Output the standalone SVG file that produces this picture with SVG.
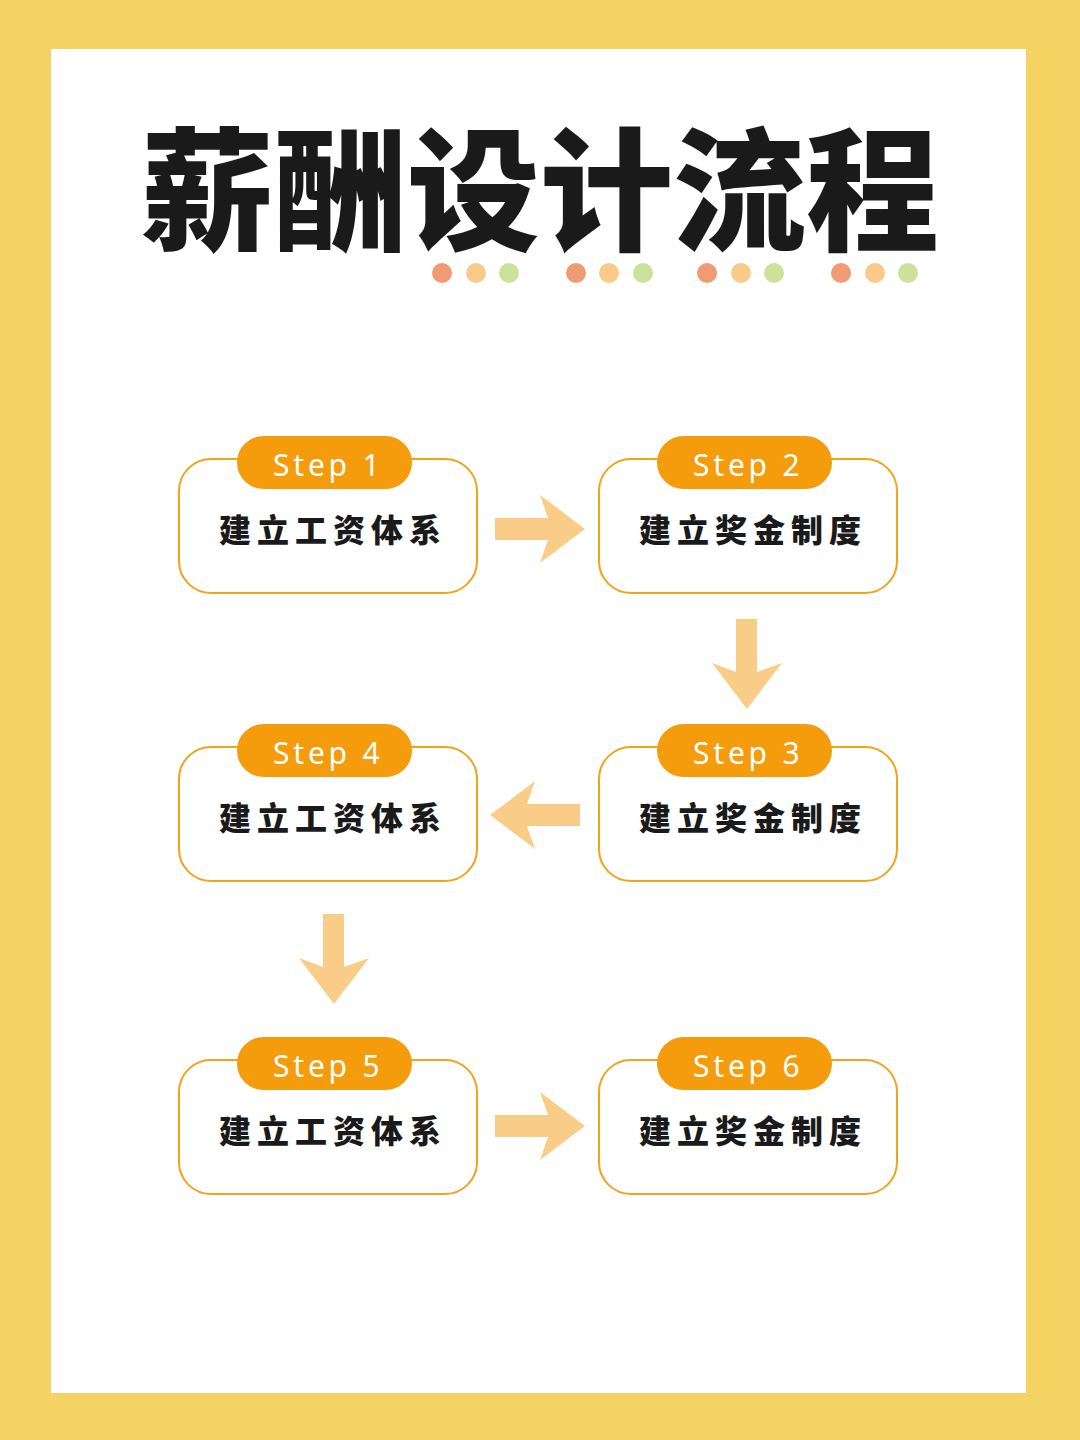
<svg xmlns="http://www.w3.org/2000/svg" width="1080" height="1440" viewBox="0 0 1080 1440">
<defs>
<style>
.box{fill:#ffffff;stroke:#F2A31B;stroke-width:2}
.pill{fill:#F49C0C}
.step{font-family:"Noto Sans","Open Sans",sans-serif;font-size:30px;fill:#ffffff;letter-spacing:3.8px}
.lbl{font-family:"Noto Sans CJK SC",sans-serif;font-size:32px;font-weight:900;fill:#1a1a1a;letter-spacing:6px}
.arr{fill:#F9CD87}
.d1{fill:#F19B74}.d2{fill:#F9CA88}.d3{fill:#CDE19A}
</style>
<path id="ra" d="M495,518 L548,518 L540,495 L585,529 L540,563 L548,540 L495,540 Z"/>
<path id="da" d="M736,619 L757,619 L757,672 L782,663 L747,709 L712,663 L736,672 Z"/>
</defs>
<rect width="1080" height="1440" fill="#F5D362"/>
<rect x="51" y="49" width="975" height="1344" fill="#ffffff"/>
<text x="540" y="240" text-anchor="middle" font-family="Noto Sans CJK SC, sans-serif" font-size="133" font-weight="900" fill="#1a1a1a">薪酬设计流程</text>
<g id="dots">
<circle class="d1" cx="442" cy="273" r="10"/><circle class="d2" cx="476" cy="273" r="10"/><circle class="d3" cx="509" cy="273" r="10"/>
<circle class="d1" cx="576" cy="273" r="10"/><circle class="d2" cx="609" cy="273" r="10"/><circle class="d3" cx="643" cy="273" r="10"/>
<circle class="d1" cx="707" cy="273" r="10"/><circle class="d2" cx="741" cy="273" r="10"/><circle class="d3" cx="774" cy="273" r="10"/>
<circle class="d1" cx="841" cy="273" r="10"/><circle class="d2" cx="875" cy="273" r="10"/><circle class="d3" cx="908" cy="273" r="10"/>
</g>
<g id="connectors">
<use href="#ra" class="arr"/>
<use href="#da" class="arr"/>
<use href="#ra" class="arr" transform="translate(1075,286) scale(-1,1)"/>
<use href="#da" class="arr" transform="translate(-413,295)"/>
<use href="#ra" class="arr" transform="translate(0,597)"/>
</g>
<g id="node1">
<rect class="box" x="179" y="459" width="298" height="134" rx="32"/>
<rect class="pill" x="237" y="436" width="175" height="53" rx="26.5"/>
<text class="step" x="273" y="476">Step 1</text>
<text class="lbl" x="219" y="542">建立工资体系</text>
</g>
<g id="node2">
<rect class="box" x="599" y="459" width="298" height="134" rx="32"/>
<rect class="pill" x="657" y="436" width="175" height="53" rx="26.5"/>
<text class="step" x="693" y="476">Step 2</text>
<text class="lbl" x="639" y="542">建立奖金制度</text>
</g>
<g id="node3">
<rect class="box" x="599" y="747" width="298" height="134" rx="32"/>
<rect class="pill" x="657" y="724" width="175" height="53" rx="26.5"/>
<text class="step" x="693" y="764">Step 3</text>
<text class="lbl" x="639" y="830">建立奖金制度</text>
</g>
<g id="node4">
<rect class="box" x="179" y="747" width="298" height="134" rx="32"/>
<rect class="pill" x="237" y="724" width="175" height="53" rx="26.5"/>
<text class="step" x="273" y="764">Step 4</text>
<text class="lbl" x="219" y="830">建立工资体系</text>
</g>
<g id="node5">
<rect class="box" x="179" y="1060" width="298" height="134" rx="32"/>
<rect class="pill" x="237" y="1037" width="175" height="53" rx="26.5"/>
<text class="step" x="273" y="1077">Step 5</text>
<text class="lbl" x="219" y="1143">建立工资体系</text>
</g>
<g id="node6">
<rect class="box" x="599" y="1060" width="298" height="134" rx="32"/>
<rect class="pill" x="657" y="1037" width="175" height="53" rx="26.5"/>
<text class="step" x="693" y="1077">Step 6</text>
<text class="lbl" x="639" y="1143">建立奖金制度</text>
</g>
</svg>
